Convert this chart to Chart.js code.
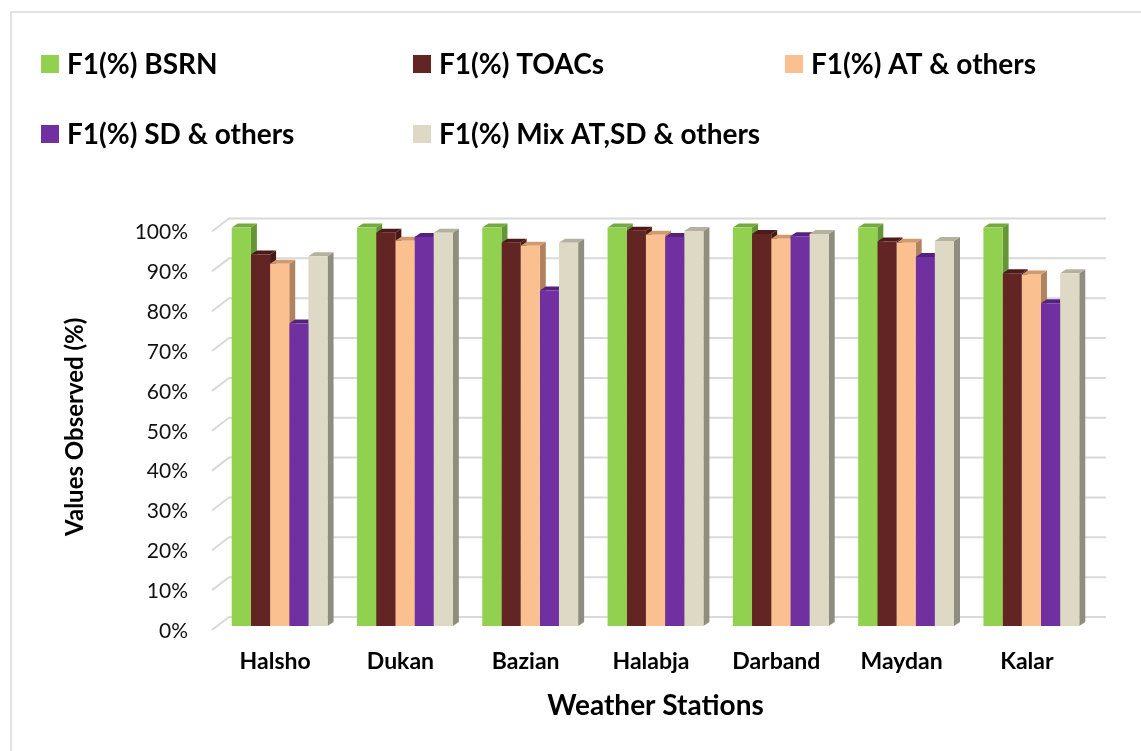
<!DOCTYPE html>
<html>
<head>
<meta charset="utf-8">
<title>F1 scores by weather station</title>
<script src="https://cdn.jsdelivr.net/npm/chart.js@4.4.1/dist/chart.umd.min.js"></script>
<style>
  html, body { margin: 0; padding: 0; background: #ffffff; }
  #wrap { width: 1141px; height: 751px; }
</style>
</head>
<body>
<div id="wrap"><canvas id="chart" width="1141" height="751"></canvas></div>
<script>
// Weather stations (categories)
const stations = ['Halsho', 'Dukan', 'Bazian', 'Halabja', 'Darband', 'Maydan', 'Kalar'];

// F1 scores (%) per feature set
const f1Bsrn   = [100, 100, 100, 100, 100, 100, 100];
const f1Toacs  = [93.2, 98.7, 96.2, 99.2, 98.4, 96.5, 88.5];
const f1At     = [90.9, 96.7, 95.4, 98.2, 97.2, 96.2, 88.2];
const f1Sd     = [75.9, 97.6, 84.2, 97.6, 97.8, 92.6, 81.0];
const f1Mix    = [92.8, 98.7, 96.2, 99.1, 98.4, 96.6, 88.5];

const seriesNames = ['F1(%) BSRN', 'F1(%) TOACs', 'F1(%) AT & others', 'F1(%) SD & others', 'F1(%) Mix AT,SD & others'];

// y-axis ticks
const yMin = 0, yMax = 100, yStep = 10;

// front / top / side face colours for each series
const frontColors = ['#92D050', '#632523', '#FAC090', '#7030A0', '#DDD9C4'];
const topColors   = ['#74A93C', '#4B1A19', '#D09A6C', '#56207F', '#B4B1A0'];
const sideColors  = ['#659635', '#481918', '#B08260', '#4F1D75', '#8F8D7D'];

const FONT = 'Lato, "Open Sans", "DejaVu Sans", sans-serif';
const DEPTH_X = 6, DEPTH_Y = 4;          // bar depth in px
const WALL_X = 12, WALL_Y = 10;          // back-wall offset in px

// back wall gridlines with short diagonal floor/wall joins
const wallPlugin = {
  id: 'wall',
  beforeDatasetsDraw(chart) {
    const { ctx, chartArea } = chart;
    const y = chart.scales.y;
    ctx.save();
    ctx.strokeStyle = '#D9D9D9';
    ctx.lineWidth = 2;
    for (let v = yMin; v <= yMax; v += yStep) {
      const py = y.getPixelForValue(v);
      ctx.beginPath();
      ctx.moveTo(chartArea.left - 5, py + 4);
      ctx.lineTo(chartArea.left + WALL_X, py - WALL_Y + 1);
      ctx.lineTo(chartArea.right + WALL_X, py - WALL_Y + 1);
      ctx.stroke();
    }
    // side and top faces of every bar, behind the front faces
    const faces = [];
    chart.data.datasets.forEach((ds, i) => {
      chart.getDatasetMeta(i).data.forEach(bar => faces.push({ bar, i }));
    });
    faces.forEach(({ bar, i }) => {
      const r = bar.x + bar.width / 2;
      ctx.fillStyle = sideColors[i];
      ctx.beginPath();
      ctx.moveTo(r, bar.y);
      ctx.lineTo(r + DEPTH_X, bar.y - DEPTH_Y);
      ctx.lineTo(r + DEPTH_X, bar.base - DEPTH_Y);
      ctx.lineTo(r, bar.base);
      ctx.closePath();
      ctx.fill();
    });
    faces.forEach(({ bar, i }) => {
      const l = bar.x - bar.width / 2, r = bar.x + bar.width / 2;
      ctx.fillStyle = topColors[i];
      ctx.beginPath();
      ctx.moveTo(l, bar.y);
      ctx.lineTo(l + DEPTH_X, bar.y - DEPTH_Y);
      ctx.lineTo(r + DEPTH_X, bar.y - DEPTH_Y);
      ctx.lineTo(r, bar.y);
      ctx.closePath();
      ctx.fill();
    });
    ctx.restore();
  }
};

// legend laid out in fixed columns, plus the chart frame
const legendPlugin = {
  id: 'gridLegend',
  afterDraw(chart) {
    const { ctx } = chart;
    ctx.save();
    ctx.strokeStyle = '#D9D9D9';
    ctx.lineWidth = 1.5;
    ctx.strokeRect(11, 12, 1200, 800);
    const cols = [41, 413, 785];
    const rows = [64, 134];
    ctx.font = 'bold 28px ' + FONT;
    ctx.textBaseline = 'middle';
    ctx.textAlign = 'left';
    chart.data.datasets.forEach((ds, i) => {
      const cx = cols[i % 3], cy = rows[Math.floor(i / 3)];
      ctx.fillStyle = ds.backgroundColor;
      ctx.fillRect(cx, cy - 9, 18, 18);
      ctx.fillStyle = '#000000';
      ctx.fillText(ds.label, cx + 26, cy + 1);
    });
    ctx.restore();
  }
};

const seriesValues = [f1Bsrn, f1Toacs, f1At, f1Sd, f1Mix];

new Chart(document.getElementById('chart'), {
  type: 'bar',
  data: {
    labels: stations,
    datasets: seriesValues.map((vals, i) => ({
      label: seriesNames[i],
      data: vals,
      backgroundColor: frontColors[i],
      borderWidth: 0,
      barPercentage: 1.0,
      categoryPercentage: 0.765
    }))
  },
  options: {
    responsive: false,
    animation: false,
    events: [],
    layout: { padding: { left: 0, right: 47, top: 227.5, bottom: 0 } },
    plugins: {
      legend: { display: false },
      tooltip: { enabled: false }
    },
    scales: {
      x: {
        grid: { display: false, drawTicks: false },
        border: { display: false },
        ticks: {
          color: '#000000',
          font: { family: FONT, size: 23, weight: 'bold' },
          padding: 22,
          labelOffset: -4.5
        },
        title: {
          display: true,
          text: 'Weather Stations',
          color: '#000000',
          font: { family: FONT, size: 28, weight: 'bold' },
          padding: { top: 0, bottom: 28 }
        },
        afterFit(scale) { scale.height = 125; }
      },
      y: {
        min: yMin,
        max: yMax,
        grid: { display: false, drawTicks: false },
        border: { display: false },
        ticks: {
          stepSize: yStep,
          color: '#111111',
          font: { family: FONT, size: 21 },
          padding: 29,
          labelOffset: 5,
          callback: v => v + '%'
        },
        title: {
          display: true,
          text: 'Values Observed (%)',
          color: '#000000',
          font: { family: FONT, size: 24, weight: 'bold' },
          padding: { top: 61, bottom: 0 }
        },
        afterFit(scale) { scale.width = 217; }
      }
    }
  },
  plugins: [wallPlugin, legendPlugin]
});
</script>
</body>
</html>
